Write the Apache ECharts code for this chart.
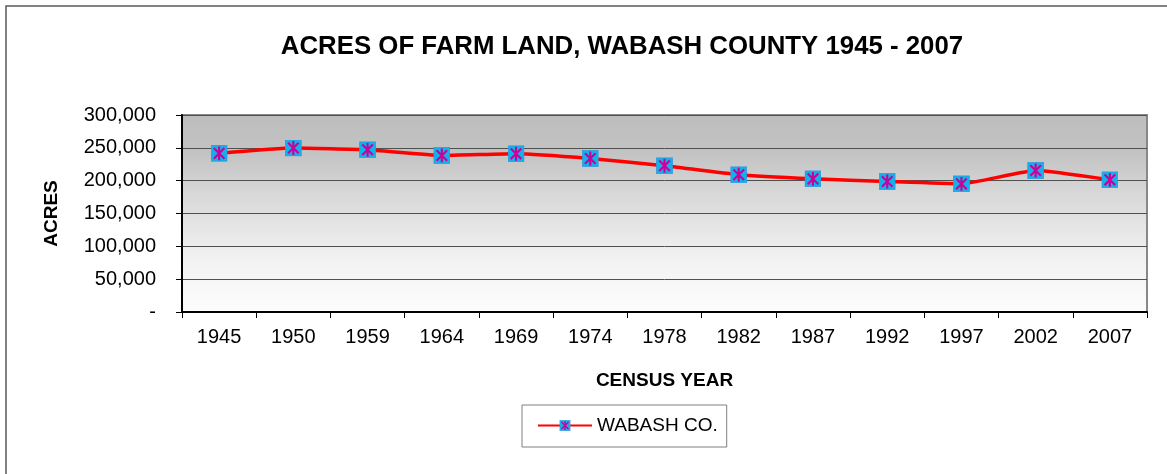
<!DOCTYPE html>
<html>
<head>
<meta charset="utf-8">
<style>
  html, body { margin: 0; padding: 0; background: #ffffff; }
  #chart { width: 1167px; height: 474px; }
</style>
<script src="https://cdn.jsdelivr.net/npm/echarts@6/dist/echarts.min.js"></script>
</head>
<body>
<div id="chart"></div>
<script>
// Census years and acres of farm land in Wabash County
const years = ['1945', '1950', '1959', '1964', '1969', '1974', '1978', '1982', '1987', '1992', '1997', '2002', '2007'];
const acres = [241600, 249700, 247000, 238400, 241000, 233800, 222700, 209000, 202800, 198700, 195200, 215500, 201300];
const seriesName = 'WABASH CO.';
const titleText = 'ACRES OF FARM LAND, WABASH COUNTY 1945 - 2007';

const FONT = '"Liberation Sans", Arial, sans-serif';

// Square cyan marker with a magenta asterisk on top
const markerSvg =
  '<svg xmlns="http://www.w3.org/2000/svg" width="32" height="32" viewBox="0 0 32 32">' +
  '<rect x="1" y="1" width="30" height="30" fill="#12b0ec" stroke="#3399dd" stroke-width="1.5"/>' +
  '<path d="M6 6 L26 26 M26 6 L6 26 M16 3 L16 29" stroke="#cc0099" stroke-width="4" fill="none"/>' +
  '</svg>';
const markerSymbol = 'image://data:image/svg+xml;charset=utf-8,' + encodeURIComponent(markerSvg);

const chart = echarts.init(document.getElementById('chart'), null, { renderer: 'canvas' });

chart.setOption({
  animation: false,
  backgroundColor: '#ffffff',
  textStyle: { fontFamily: FONT },
  title: {
    text: titleText,
    left: 617,
    top: 29,
    textAlign: 'center',
    textStyle: { fontFamily: FONT, fontSize: 25.8, fontWeight: 'bold', color: '#000000' }
  },
  graphic: [{
    type: 'rect',
    shape: { x: 6, y: 6, width: 1170, height: 480 },
    style: { fill: 'none', stroke: '#5a5a5a', lineWidth: 1.5 },
    silent: true,
    z: -1
  }],
  legend: {
    data: [seriesName],
    left: 522,
    top: 405,
    padding: [11, 9, 12, 15],
    itemWidth: 54,
    itemHeight: 14,
    itemGap: 5,
    borderColor: '#7f7f7f',
    borderWidth: 1,
    textStyle: { fontFamily: FONT, fontSize: 19, color: '#000000' }
  },
  grid: {
    left: 182,
    right: 20,
    top: 115,
    bottom: 162,
    show: true,
    borderColor: '#888888',
    borderWidth: 2,
    backgroundColor: new echarts.graphic.LinearGradient(0, 0, 0, 1, [
      { offset: 0, color: '#bdbdbd' },
      { offset: 0.2, color: '#c3c3c3' },
      { offset: 0.4, color: '#d8d8d8' },
      { offset: 0.7, color: '#f0f0f0' },
      { offset: 1, color: '#fdfdfd' }
    ])
  },
  xAxis: {
    type: 'category',
    data: years,
    boundaryGap: true,
    name: 'CENSUS YEAR',
    nameLocation: 'middle',
    nameGap: 59,
    nameTextStyle: { fontFamily: FONT, fontSize: 19, fontWeight: 'bold', color: '#000000' },
    axisLine: { lineStyle: { color: '#000000', width: 2 } },
    axisTick: { show: true, alignWithLabel: false, length: 6, lineStyle: { color: '#000000', width: 1 } },
    axisLabel: { margin: 15, fontFamily: FONT, fontSize: 20, color: '#000000' },
    splitLine: { show: false }
  },
  yAxis: {
    type: 'value',
    min: 0,
    max: 300000,
    interval: 50000,
    name: 'ACRES',
    nameLocation: 'middle',
    nameGap: 121,
    nameTextStyle: { fontFamily: FONT, fontSize: 19, fontWeight: 'bold', color: '#000000' },
    axisLine: { show: true, lineStyle: { color: '#000000', width: 2 } },
    axisTick: { show: true, length: 6, lineStyle: { color: '#000000', width: 1 } },
    axisLabel: {
      margin: 26,
      fontFamily: FONT,
      fontSize: 20,
      color: '#000000',
      formatter: function (v) { return v === 0 ? '-' : v.toLocaleString('en-US'); }
    },
    splitLine: { show: true, lineStyle: { color: '#505050', width: 1 } }
  },
  series: [{
    name: seriesName,
    type: 'line',
    data: acres,
    smooth: 0.15,
    symbol: markerSymbol,
    symbolSize: 17,
    showAllSymbol: true,
    lineStyle: { color: '#ff0000', width: 3.5 },
    itemStyle: { color: '#ff0000' },
    z: 3
  }]
});
</script>
</body>
</html>
